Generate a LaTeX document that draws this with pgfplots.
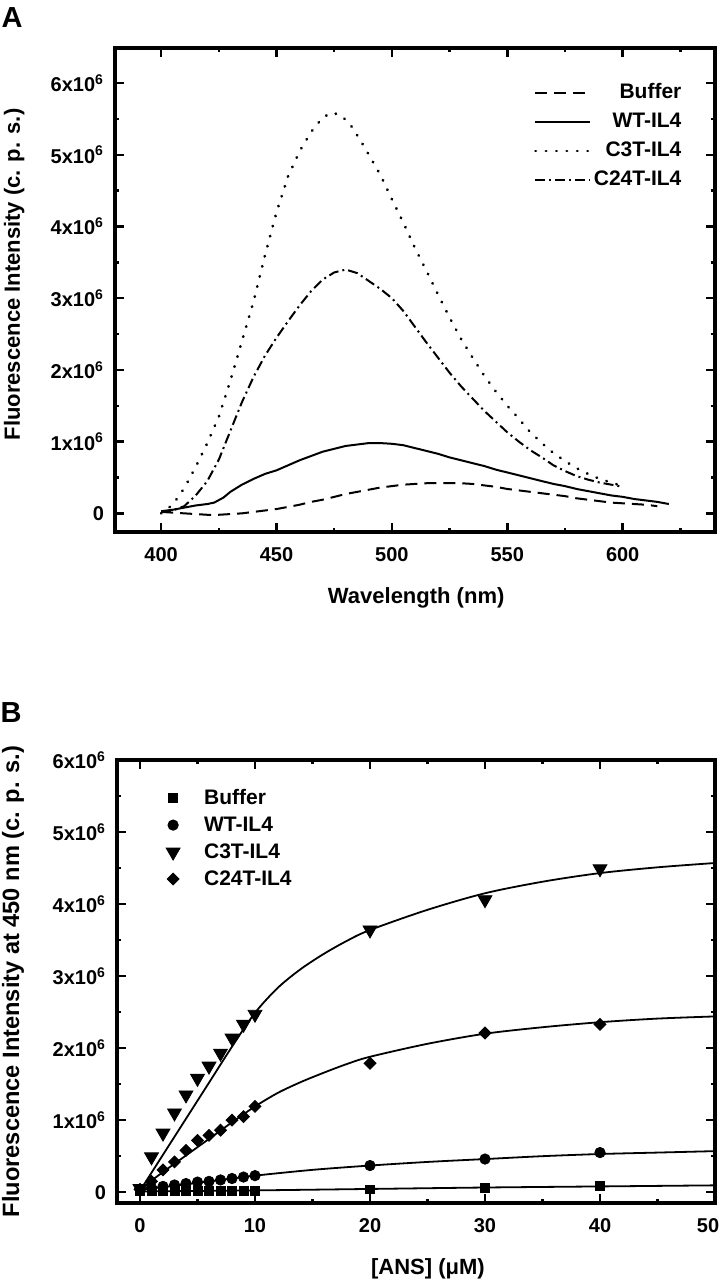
\documentclass[border=0pt]{standalone}
\usepackage{fontspec}
\setmainfont{Liberation Sans}
\usepackage{pgfplots}
\pgfplotsset{compat=1.18}
\begin{document}
\begin{tikzpicture}
\useasboundingbox (0,0) rectangle (360pt,640pt);
\pgfplotsset{
  myaxis/.style={
    scale only axis,
    axis line style={line width=1.8pt},
    every tick/.style={line width=1.2pt, black},
    major tick length=4.5pt, minor tick length=2.2pt,
    tick align=inside,
    /pgf/number format/assume math mode=true,
    ticklabel style={font=\fontsize{10}{12}\selectfont\bfseries},
    xticklabel style={yshift=-4pt},
    yticklabel style={xshift=-2pt},
    label style={font=\fontsize{11}{13}\selectfont\bfseries},
    legend style={draw=none, fill=none, font=\fontsize{10.5}{12}\selectfont\bfseries},
    ytick={0,1,2,3,4,5,6},
    yticklabels={0,1x10\textsuperscript{6},2x10\textsuperscript{6},3x10\textsuperscript{6},4x10\textsuperscript{6},5x10\textsuperscript{6},6x10\textsuperscript{6}},
    minor ytick={0.5,1.5,2.5,3.5,4.5,5.5},
  }
}
\node[font=\fontsize{14.5}{16}\selectfont\bfseries] at (6pt,631pt) {A};
\node[font=\fontsize{14.5}{16}\selectfont\bfseries] at (5.5pt,283.5pt) {B};

% ---------------- Panel A ----------------
\begin{axis}[myaxis,
  at={(57.5pt,374pt)}, anchor=south west, width=300pt, height=242pt,
  xmin=380, xmax=640, ymin=-0.26, ymax=6.49,
  xtick={400,450,500,550,600}, minor xtick={425,475,525,575,625},
  xlabel={Wavelength (nm)}, ylabel={Fluorescence Intensity (c. p. s.)},
  xlabel style={at={(axis description cs:0.502,-0.136)}, anchor=center},
  ylabel style={at={(axis description cs:-0.168,0.532)}, anchor=center},
  legend style={at={(axis description cs:0.958,0.941)}, anchor=north east,
    legend cell align=right, row sep=2.5pt,
    nodes={inner sep=1pt, text height=8pt, text depth=2pt}},
  legend image code/.code={\draw[#1] (0pt,0pt) -- (27.5pt,0pt);},
]
\addplot[black, line width=1pt, dash pattern=on 6pt off 3.5pt] coordinates {
(400,0.02)(405,0.01)(410,0.0)(415,-0.01)(420,-0.02)(425,-0.02)(430,-0.01)(435,0.0)(440,0.02)(445,0.04)(450,0.06)(455,0.09)(460,0.12)(465,0.16)(470,0.19)(475,0.23)(480,0.27)(485,0.3)(490,0.33)(495,0.36)(500,0.38)(505,0.4)(510,0.41)(515,0.42)(520,0.42)(525,0.42)(530,0.42)(535,0.41)(540,0.39)(545,0.37)(550,0.34)(555,0.32)(560,0.3)(565,0.28)(570,0.26)(575,0.24)(580,0.21)(585,0.19)(590,0.17)(595,0.15)(600,0.14)(605,0.13)(610,0.12)(615,0.1)};
\addlegendentry{Buffer}
\addplot[black, line width=1pt] coordinates {
(400,0.03)(405,0.05)(410,0.08)(415,0.11)(420,0.13)(423,0.15)(427,0.22)(430,0.3)(435,0.4)(440,0.48)(445,0.55)(450,0.6)(455,0.67)(460,0.74)(465,0.8)(470,0.86)(475,0.9)(480,0.94)(485,0.96)(490,0.98)(495,0.98)(500,0.97)(505,0.95)(510,0.91)(515,0.87)(520,0.83)(525,0.78)(530,0.74)(535,0.7)(540,0.66)(545,0.61)(550,0.57)(555,0.53)(560,0.49)(565,0.45)(570,0.41)(575,0.38)(580,0.34)(585,0.31)(590,0.28)(595,0.25)(600,0.23)(605,0.2)(610,0.18)(615,0.16)(620,0.13)};
\addlegendentry{WT-IL4}
\addplot[black, line width=1.4pt, line cap=round, dash pattern=on 0.2pt off 5pt] coordinates {
(400,0.0)(405,0.12)(410,0.35)(415,0.65)(420,0.98)(425,1.35)(430,1.85)(435,2.4)(440,2.95)(445,3.6)(450,4.2)(455,4.7)(460,5.05)(465,5.32)(470,5.52)(474,5.59)(478,5.55)(482,5.42)(486,5.22)(490,5.0)(495,4.72)(500,4.38)(505,4.05)(510,3.7)(515,3.38)(520,3.05)(525,2.73)(530,2.43)(535,2.17)(540,1.92)(545,1.7)(550,1.5)(555,1.32)(560,1.13)(565,0.98)(570,0.84)(575,0.73)(580,0.63)(585,0.55)(590,0.48)(595,0.43)(600,0.38)};
\addlegendentry{C3T-IL4}
\addplot[black, line width=1pt, dash pattern=on 5pt off 2pt on 1pt off 2pt] coordinates {
(400,0.02)(405,0.04)(410,0.1)(415,0.25)(420,0.45)(425,0.75)(430,1.15)(435,1.55)(440,1.9)(445,2.2)(450,2.45)(455,2.68)(460,2.9)(465,3.1)(470,3.26)(475,3.36)(480,3.4)(485,3.35)(490,3.24)(495,3.13)(500,3.0)(505,2.82)(510,2.6)(515,2.38)(520,2.17)(525,1.96)(530,1.77)(535,1.6)(540,1.43)(545,1.28)(550,1.13)(555,1.0)(560,0.88)(565,0.78)(570,0.67)(575,0.59)(580,0.52)(585,0.47)(590,0.43)(595,0.4)(600,0.37)};
\addlegendentry{C24T-IL4}
\end{axis}

% ---------------- Panel B ----------------
\begin{axis}[myaxis,
  at={(58.5pt,38.5pt)}, anchor=south west, width=299pt, height=221.5pt,
  xmin=-2, xmax=50, ymin=-0.15, ymax=6,
  xtick={0,10,20,30,40,50}, minor xtick={5,15,25,35,45},
  xticklabels={0,10,20,30,40,50\hspace*{7pt}},
  xlabel={{}[ANS] (μM)}, ylabel={Fluorescence Intensity at 450 nm (c. p. s.)},
  xlabel style={at={(axis description cs:0.52,-0.148)}, anchor=center},
  ylabel style={at={(axis description cs:-0.174,0.5)}, anchor=center, font=\fontsize{11.8}{14}\selectfont\bfseries},
  legend style={at={(axis description cs:0.043,0.951)}, anchor=north west,
    legend cell align=left, row sep=1.5pt,
    nodes={inner sep=1pt, text height=8pt, text depth=2pt}},
  legend image code/.code={\path[draw=none,fill=none] (0pt,0pt) -- (26.5pt,0pt); \draw[#1, only marks] plot coordinates {(12pt,0pt)};},
]
\addplot[black, only marks, mark=square*, mark size=2.2pt] coordinates {
(0,0.015)(1,0.015)(2,0.015)(3,0.015)(4,0.015)(5,0.015)(6,0.015)(7,0.015)(8,0.015)(9,0.015)(10,0.015)(20,0.04)(30,0.065)(40,0.085)};
\addlegendentry{Buffer}
\addplot[black, only marks, mark=*, mark size=2.6pt] coordinates {
(0,0.04)(1,0.06)(2,0.08)(3,0.1)(4,0.12)(5,0.14)(6,0.15)(7,0.17)(8,0.19)(9,0.21)(10,0.23)(20,0.37)(30,0.46)(40,0.55)};
\addlegendentry{WT-IL4}
\addplot[black, only marks, mark=triangle*, mark size=4pt, mark options={rotate=180}] coordinates {
(0,0.05)(1,0.49)(2,0.82)(3,1.1)(4,1.35)(5,1.58)(6,1.75)(7,1.93)(8,2.14)(9,2.33)(10,2.47)(20,3.64)(30,4.06)(40,4.49)};
\addlegendentry{C3T-IL4}
\addplot[black, only marks, mark=square*, mark size=2.1pt, mark options={rotate=45}] coordinates {
(0,0.04)(1,0.15)(2,0.31)(3,0.42)(4,0.58)(5,0.72)(6,0.79)(7,0.86)(8,1.0)(9,1.05)(10,1.19)(20,1.79)(30,2.21)(40,2.33)};
\addlegendentry{C24T-IL4}
% fitted curves
\addplot[black, line width=0.9pt, smooth, forget plot] coordinates {
(0,0.01)(10,0.025)(20,0.045)(30,0.065)(40,0.08)(50,0.095)};
\addplot[black, line width=0.9pt, smooth, forget plot] coordinates {
(0,0.03)(2,0.07)(4,0.11)(6,0.15)(8,0.19)(10,0.23)(15,0.31)(20,0.37)(25,0.42)(30,0.46)(35,0.5)(40,0.53)(45,0.55)(50,0.57)};
\addplot[black, line width=0.9pt, smooth, forget plot] coordinates {
(0,0.02)(2,0.52)(4,1.02)(6,1.52)(8,2.02)(10,2.49)(12,2.84)(14,3.1)(16,3.31)(18,3.49)(20,3.64)(25,3.92)(30,4.15)(35,4.31)(40,4.43)(45,4.51)(50,4.57)};
\addplot[black, line width=0.9pt, smooth, forget plot] coordinates {
(0,0.04)(2,0.28)(4,0.51)(6,0.74)(8,0.97)(10,1.19)(12,1.38)(14,1.53)(16,1.66)(18,1.78)(20,1.88)(25,2.06)(30,2.2)(35,2.29)(40,2.36)(45,2.41)(50,2.44)};
\end{axis}
\end{tikzpicture}
\end{document}
